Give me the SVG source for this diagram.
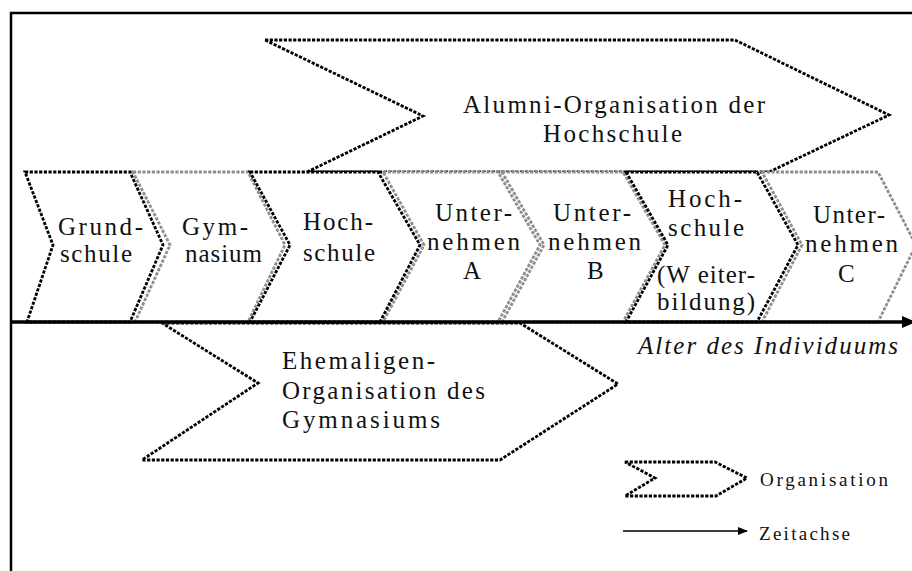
<svg xmlns="http://www.w3.org/2000/svg" width="912" height="571" viewBox="0 0 912 571">
  <style>
    .frame { fill: none; stroke: #000; stroke-width: 2.5; }
    .org { fill: #fff; stroke-width: 2.8; stroke-dasharray: 3.2 1.5; stroke-linejoin: miter; }
    .blk { stroke: #000; }
    .gry { stroke: #8e8e8e; }
    .axis { stroke: #000; stroke-width: 3.5; fill: none; }
    .thin { stroke: #000; stroke-width: 1.6; fill: none; }
  </style>
  <defs>
    <marker id="arrowSmall" markerWidth="10" markerHeight="8" refX="9" refY="4" orient="auto" markerUnits="userSpaceOnUse">
      <path d="M0,0 L10,4 L0,8 Z" fill="#000"/>
    </marker>
  </defs>

  <rect width="912" height="571" fill="#fff"/>
  <rect class="frame" x="11" y="13" width="920" height="580"/>

  <!-- upper organisation spanning the working life -->
  <g id="alumni">
    <polygon class="org blk" points="265,40 735,40 889,115 769,172 307,172 423,116"/>
    <text x="463" y="113" font-family="Liberation Serif" font-size="25" fill="#111" textLength="302" lengthAdjust="spacing">Alumni-Organisation der</text>
    <text x="543" y="142" font-family="Liberation Serif" font-size="25" fill="#111" textLength="139" lengthAdjust="spacing">Hochschule</text>
  </g>

  <!-- lower organisation -->
  <g id="ehemaligen">
    <polygon class="org blk" points="162,323 520,323 618,384 500,460 142,460 258,383"/>
    <text x="282" y="369" font-family="Liberation Serif" font-size="25" fill="#111" textLength="153" lengthAdjust="spacing">Ehemaligen-</text>
    <text x="282" y="399" font-family="Liberation Serif" font-size="25" fill="#111" textLength="203" lengthAdjust="spacing">Organisation des</text>
    <text x="282" y="428" font-family="Liberation Serif" font-size="25" fill="#111" textLength="158" lengthAdjust="spacing">Gymnasiums</text>
  </g>

  <!-- life stages along the axis -->
  <g id="gymnasium">
    <polygon class="org gry" points="133,172 248,172 285,245 248,322 135,322 170,245"/>
    <text x="182" y="235" font-family="Liberation Serif" font-size="25" fill="#111" textLength="66" lengthAdjust="spacing">Gym-</text>
    <text x="185" y="262" font-family="Liberation Serif" font-size="25" fill="#111" textLength="77" lengthAdjust="spacing">nasium</text>
  </g>
  <g id="unternehmen-a">
    <polygon class="org gry" points="383,172 498,172 540,245 498,322 383,322 424,245"/>
    <text x="435" y="221" font-family="Liberation Serif" font-size="25" fill="#111" textLength="77" lengthAdjust="spacing">Unter-</text>
    <text x="427" y="250" font-family="Liberation Serif" font-size="25" fill="#111" textLength="93" lengthAdjust="spacing">nehmen</text>
    <text x="463" y="279" font-family="Liberation Serif" font-size="25" fill="#111">A</text>
  </g>
  <g id="unternehmen-b">
    <polygon class="org gry" points="502,172 623,172 665,245 623,322 502,322 544,245"/>
    <text x="553" y="221" font-family="Liberation Serif" font-size="25" fill="#111" textLength="78" lengthAdjust="spacing">Unter-</text>
    <text x="548" y="250" font-family="Liberation Serif" font-size="25" fill="#111" textLength="93" lengthAdjust="spacing">nehmen</text>
    <text x="587" y="279" font-family="Liberation Serif" font-size="25" fill="#111">B</text>
  </g>
  <g id="unternehmen-c">
    <polygon class="org gry" points="762,172 878,172 916,245 878,322 762,322 802,245"/>
    <text x="813" y="223" font-family="Liberation Serif" font-size="25" fill="#111" textLength="72" lengthAdjust="spacing">Unter-</text>
    <text x="805" y="252" font-family="Liberation Serif" font-size="25" fill="#111" textLength="93" lengthAdjust="spacing">nehmen</text>
    <text x="838" y="282" font-family="Liberation Serif" font-size="25" fill="#111">C</text>
  </g>
  <g id="grundschule">
    <polygon class="org blk" points="25,172 130,172 163,245 130,322 27,322 53,245"/>
    <text x="58" y="235" font-family="Liberation Serif" font-size="25" fill="#111" textLength="85" lengthAdjust="spacing">Grund-</text>
    <text x="60" y="262" font-family="Liberation Serif" font-size="25" fill="#111" textLength="72" lengthAdjust="spacing">schule</text>
  </g>
  <g id="hochschule">
    <polygon class="org blk" points="250,172 378,172 420,245 380,322 250,322 290,245"/>
    <text x="303" y="230" font-family="Liberation Serif" font-size="25" fill="#111" textLength="70" lengthAdjust="spacing">Hoch-</text>
    <text x="303" y="261" font-family="Liberation Serif" font-size="25" fill="#111" textLength="72" lengthAdjust="spacing">schule</text>
  </g>
  <g id="hochschule-weiterbildung">
    <polygon class="org blk" points="626,172 757,172 798,245 757,322 626,322 668,245"/>
    <text x="668" y="207" font-family="Liberation Serif" font-size="25" fill="#111" textLength="74" lengthAdjust="spacing">Hoch-</text>
    <text x="668" y="236" font-family="Liberation Serif" font-size="25" fill="#111" textLength="76" lengthAdjust="spacing">schule</text>
    <text x="657" y="283" font-family="Liberation Serif" font-size="25" fill="#111" textLength="98" lengthAdjust="spacing">(W eiter-</text>
    <text x="657" y="310" font-family="Liberation Serif" font-size="25" fill="#111" textLength="98" lengthAdjust="spacing">bildung)</text>
  </g>

  <!-- time axis -->
  <g id="connectors">
    <line class="axis" x1="11" y1="322" x2="904" y2="322"/>
    <polygon points="902,316 916,322 902,328" fill="#000"/>
  </g>
  <text x="638" y="354" font-family="Liberation Serif" font-size="25" font-style="italic" fill="#111" textLength="260" lengthAdjust="spacing">Alter des Individuums</text>

  <!-- legend -->
  <g id="legend">
    <polygon class="org blk" points="625,462 715,462 747,478 716,496 625,496 655,478"/>
    <text x="760" y="486" font-family="Liberation Serif" font-size="19" fill="#111" textLength="128" lengthAdjust="spacing">Organisation</text>
    <line class="thin" x1="623" y1="531" x2="747" y2="531" marker-end="url(#arrowSmall)"/>
    <text x="759" y="540" font-family="Liberation Serif" font-size="19" fill="#111" textLength="91" lengthAdjust="spacing">Zeitachse</text>
  </g>
</svg>
